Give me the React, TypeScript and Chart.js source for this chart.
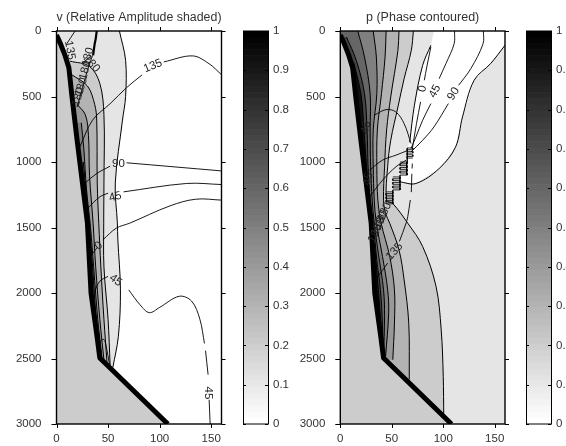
import React, { useEffect, useRef } from "react";
import { Chart, registerables } from "chart.js";

Chart.register(...registerables);

type Pair = [number, number];

const FONT = "Liberation Sans";
const INK = "#333333";

const xTickStep = 50;
const xMax = 160;
const depthStep = 500;
const depthMax = 3000;

const seabed: Pair[] = [[0, 30], [4, 100], [8, 180], [12, 280], [15, 500], [20, 834], [24, 1088], [30, 1467], [33.5, 2001], [39.3, 2331], [42, 2496], [108, 3000]];

// Panel v: relative-amplitude contours, outer to inner
const vAmp1: Pair[] = [[61, 0], [67, 224], [67, 500], [64, 680], [57, 1160], [59, 1464], [59.5, 1595], [62, 1976], [60, 2330], [54.6, 2570]];
const vAmp2: Pair[] = [[13, 230], [32, 270], [42, 400], [46, 640], [46, 1160], [45.8, 1467], [46, 1800], [50, 2200], [52, 2550]];
const vAmp3: Pair[] = [[14, 330], [30, 420], [37, 560], [39, 680], [39.5, 1160], [41, 1467], [43, 1800], [46, 2200], [49, 2530]];
const vAmp4: Pair[] = [[20, 560], [28, 640], [31, 800], [32, 1100], [35.5, 1467], [38, 1800], [42, 2200], [46, 2510]];
const vAmp5: Pair[] = [[24, 700], [26.5, 900], [29, 1200], [33, 1500], [36, 1800], [40, 2200], [44, 2490]];
const vAmp6: Pair[] = [[26, 1000], [29, 1250], [32, 1500], [35, 1800], [38.5, 2200], [42.5, 2480]];
const vAmp7: Pair[] = [[27, 1150], [30, 1400], [33.5, 1800], [37, 2200], [41, 2480]];
const vAmpShades = ["#e5e5e5", "#cccccc", "#b3b3b3", "#999999", "#808080", "#555555", "#111111"];

// Panel v: phase contours (split where a label interrupts the line)
const vPhase: Pair[][] = [
  [[22.6, 885], [35, 680], [52, 555], [68, 432], [83, 335]],
  [[104, 236], [132, 190], [148, 250], [159.5, 330]],
  [[27, 1165], [39, 1088], [52, 1032]],
  [[68, 1006], [160, 1068]],
  [[30, 1355], [42, 1266], [50, 1238]],
  [[65, 1228], [126, 1164], [160, 1172]],
  [[34, 1708], [39, 1658]],
  [[45, 1594], [58, 1505], [71, 1467], [110, 1335], [135, 1284], [160, 1291]],
  [[37, 1987], [42, 1910], [50, 1873]],
  [[70, 1976], [81, 2090], [90, 2150], [100, 2110], [119, 2025], [131, 2062], [139, 2200], [143.5, 2385]],
  [[144.5, 2440], [147, 2623]],
  [[148, 2815], [149, 3000]],
  [[40, 2410], [43, 2365], [46, 2355], [48, 2400], [51.6, 2555]],
  [[18, 0], [10, 97]],
  [[35, 186], [30, 300], [25, 440], [20, 580]],
];
const vWrap: Pair[] = [[39, 0], [38, 60], [37, 100], [35.5, 186]];
const vLabels: [string, number, number, number][] = [
  ["135", 93.5, 267, -22],
  ["90", 60, 1017, 0],
  ["45", 57, 1266, -15],
  ["0", 41, 1640, -40],
  ["45", 57.4, 1904, 35],
  ["45", 147, 2763, 90],
  ["135", 13, 147, 80],
  ["180", 30.6, 198, -75],
  ["180", 34, 249, 50],
  ["180", 28, 300, -75],
  ["180", 24, 427, -72],
  ["180", 21, 503, -72],
];

// Panel p: relative-amplitude contours
const pAmpWhite: Pair[] = [[91, 0], [160, 0], [160, 109], [146, 249], [130, 376], [118.7, 656], [112, 885], [96, 1050], [73.5, 1164], [57.4, 1151], [57.4, 1100], [64, 1100], [64.5, 910], [67.4, 849], [72, 567], [80, 262], [88, 109]];
const pAmp1: Pair[] = [[71, 0], [69, 147], [62, 364], [56, 580], [49, 834], [46, 1037], [45, 1291], [51, 1317], [65.5, 1467], [80, 1645], [93, 1950], [98, 2280], [100, 2636], [100.5, 2943]];
const pAmp2: Pair[] = [[57, 0], [56, 147], [49, 503], [45, 755], [43, 1037], [42, 1291], [44, 1393], [48, 1467], [57, 1670], [62, 1900], [66.5, 2230], [67, 2660]];
const pAmp3: Pair[] = [[44.5, 0], [43.5, 198], [40, 478], [36, 755], [35.5, 1037], [36.5, 1291], [39.7, 1467], [48, 1721], [52.6, 1975], [52.6, 2230], [51, 2509]];
const pAmp4: Pair[] = [[32, 0], [35, 198], [35.5, 478], [32, 755], [32, 1037], [33, 1291], [35, 1467], [41, 1721], [46, 1975], [47, 2153], [44, 2484]];
const pAmp5: Pair[] = [[17, 0], [23.5, 198], [29, 478], [29, 755], [29.5, 1037], [31, 1291], [33, 1467], [37, 1700], [42, 1975], [43, 2178], [42, 2484]];
const pAmp6: Pair[] = [[6, 46], [15.5, 224], [23.5, 478], [26, 755], [27, 1037], [29, 1291], [32, 1467], [35.5, 1750], [39, 1975], [41, 2250], [41.3, 2484]];
const pAmp7: Pair[] = [[13, 240], [20, 478], [23, 755], [25.5, 1037], [28, 1291], [31, 1467], [34, 1700], [37, 1975], [40, 2300]];
const pAmpShades = ["#cccccc", "#b3b3b3", "#999999", "#808080", "#666666", "#444444", "#111111"];

// Panel p: phase contours
const pPhase: Pair[][] = [
  [[88, 122], [84, 275], [81.6, 376]],
  [[78, 541], [74, 707], [70, 897]],
  [[111, 0], [110.6, 97], [102.6, 249], [96, 364]],
  [[88, 554], [80, 681], [73.5, 808], [68.7, 897]],
  [[139, 0], [138.7, 97], [126.8, 287], [115, 414]],
  [[105, 554], [91, 732], [80, 834], [68.7, 923]],
  [[33, 643], [44.5, 600], [54, 618], [62, 707], [68.7, 859]],
  [[28.4, 1063], [41, 986], [54, 948], [64.5, 915]],
  [[28.4, 1266], [41, 1139], [54, 1037], [64, 986]],
  [[70, 1012], [69.7, 1050]],
  [[69.5, 1090], [69, 1230]],
  [[68, 1290], [65.5, 1418], [63.9, 1467], [57.4, 1607]],
  [[46, 1772], [35.5, 1886]],
];
const pHatch: Pair[][] = [
  [[65, 893], [70.5, 893], [70.5, 906], [65, 906], [65, 919], [70.5, 919], [70.5, 932], [65, 932], [65, 945], [70.5, 945], [70.5, 958], [65, 958], [65, 970], [70.5, 970]],
  [[58, 1000], [65, 1000], [65, 1014], [58, 1014], [58, 1028], [65, 1028], [65, 1042], [58, 1042], [58, 1056], [65, 1056], [65, 1070], [58, 1070], [58, 1084], [65, 1084], [65, 1100], [58, 1100]],
  [[51, 1114], [58, 1114], [58, 1128], [51, 1128], [51, 1142], [58, 1142], [58, 1156], [51, 1156], [51, 1170], [58, 1170], [58, 1184], [51, 1184], [51, 1198], [58, 1198], [58, 1213], [51, 1213]],
  [[44.4, 1228], [51, 1228], [51, 1241], [44.4, 1241], [44.4, 1254], [51, 1254], [51, 1267], [44.4, 1267], [44.4, 1280], [51, 1280], [51, 1293], [44.4, 1293], [44.4, 1306], [51, 1306], [51, 1320], [44.4, 1320]],
];
const pSteps: Pair[][] = [
  [[65, 893], [65, 1000]],
  [[64.5, 1000], [64.5, 1100]],
  [[58, 1100], [58, 1213]],
  [[51, 1213], [51, 1320]],
];
const pLabels: [string, number, number, number][] = [
  ["0", 80, 440, -78],
  ["45", 92, 460, -62],
  ["90", 110, 480, -58],
  ["135", 52.6, 1683, -48],
  ["45", 25, 737, -75],
  ["45", 27, 1130, -75],
  ["180", 43, 1380, -65],
  ["180", 39, 1440, -65],
  ["180", 36.7, 1495, -65],
  ["180", 34, 1545, -65],
];

const titles = { v: "v (Relative Amplitude shaded)", p: "p (Phase contoured)" };

const barGrays = [255, 251, 247, 243, 239, 235, 231, 227, 223, 219, 215, 211, 207, 202, 198, 194, 190, 186, 182, 178, 174, 170, 166, 162, 158, 154, 150, 146, 142, 138, 134, 130, 125, 121, 117, 113, 109, 105, 101, 97, 93, 89, 85, 81, 77, 73, 69, 65, 61, 57, 53, 49, 45, 40, 36, 32, 28, 24, 20, 16, 12, 8, 4, 0];
const barStep = 0.015625;
const barTickStep = 0.1;

const pts = (a: Pair[]) => a.map(([x, y]) => ({ x, y }));

const line = (a: Pair[], extra: any = {}) => ({
  data: pts(a),
  borderColor: "#000000",
  borderWidth: 1,
  pointRadius: 0,
  tension: 0.35,
  showLine: true,
  fill: false,
  ...extra,
});

const shadePlugin = (background: string) => ({
  id: "shade",
  beforeDatasetsDraw(chart: any) {
    const { ctx, chartArea: a, scales } = chart;
    ctx.save();
    ctx.beginPath();
    ctx.rect(a.left, a.top, a.right - a.left, a.bottom - a.top);
    ctx.clip();
    ctx.fillStyle = background;
    ctx.fillRect(a.left, a.top, a.right - a.left, a.bottom - a.top);
    const count = chart.data.datasets.length;
    const shaded = [];
    for (let i = 0; i < count; i++) if (chart.data.datasets[i].shade) shaded.push(i);
    shaded.sort((p, q) => chart.data.datasets[p].shadeOrder - chart.data.datasets[q].shadeOrder);
    for (const i of shaded) {
      const ds = chart.data.datasets[i];
      const el = chart.getDatasetMeta(i).dataset;
      el.updateControlPoints(a, "x");
      ctx.beginPath();
      el.path(ctx);
      if (!ds.selfClosed) {
        const first = ds.data[0];
        const last = ds.data[ds.data.length - 1];
        ctx.lineTo(scales.x.getPixelForValue(0), scales.y.getPixelForValue(last.y));
        ctx.lineTo(scales.x.getPixelForValue(0), scales.y.getPixelForValue(first.y));
      }
      ctx.closePath();
      ctx.fillStyle = ds.shade;
      ctx.fill();
    }
    ctx.restore();
  },
});

const labelPlugin = (labels: [string, number, number, number][]) => ({
  id: "contourLabels",
  afterDatasetsDraw(chart: any) {
    const { ctx, scales } = chart;
    ctx.save();
    ctx.font = `11.5px "${FONT}"`;
    ctx.fillStyle = "#222222";
    ctx.textAlign = "center";
    ctx.textBaseline = "middle";
    for (const [text, x, y, angle] of labels) {
      ctx.save();
      ctx.translate(scales.x.getPixelForValue(x), scales.y.getPixelForValue(y));
      ctx.rotate((angle * Math.PI) / 180);
      ctx.fillText(text, 0, 0);
      ctx.restore();
    }
    ctx.restore();
  },
});

// The box round each panel with its four sets of outward ticks
const framePlugin = {
  id: "panelFrame",
  afterDatasetsDraw(chart: any) {
    const { ctx, chartArea: a, scales } = chart;
    ctx.save();
    ctx.strokeStyle = "#000000";
    ctx.lineWidth = 1;
    ctx.beginPath();
    for (const t of scales.x.ticks) {
      const x = Math.round(scales.x.getPixelForValue(t.value)) + 0.5;
      ctx.moveTo(x, a.top - 4);
      ctx.lineTo(x, a.top);
      ctx.moveTo(x, a.bottom);
      ctx.lineTo(x, a.bottom + 4);
    }
    for (const t of scales.y.ticks) {
      const y = Math.round(scales.y.getPixelForValue(t.value)) + 0.5;
      ctx.moveTo(a.left - 5, y);
      ctx.lineTo(a.left, y);
      ctx.moveTo(a.right, y);
      ctx.lineTo(a.right + 4, y);
    }
    ctx.stroke();
    ctx.lineWidth = 1.4;
    ctx.strokeRect(a.left, a.top, a.right - a.left, a.bottom - a.top);
    ctx.restore();
  },
};

const tickFont = { family: FONT, size: 11.5 };
const plainNumber = (v: any) => String(v);
const fixedWidth = (w: number) => (s: any) => { s.width = w; };
const fixedHeight = (h: number) => (s: any) => { s.height = h; };
const hiddenGrid = { display: false, drawTicks: true, tickLength: 5 };

function panelOptions(title: string, leftWidth: number, rightPad: number): any {
  return {
    responsive: false,
    animation: false,
    layout: { padding: { left: 0, right: rightPad, top: 0, bottom: 0 } },
    plugins: {
      legend: { display: false },
      tooltip: { enabled: false },
      title: { display: true, text: title, color: INK, fullSize: false, font: { family: FONT, size: 12.5, weight: "normal" }, padding: { top: 10.5, bottom: 5.5 } },
    },
    scales: {
      x: {
        type: "linear", min: 0, max: xMax, position: "bottom",
        grid: hiddenGrid, border: { display: false }, afterFit: fixedHeight(22),
        ticks: { stepSize: xTickStep, includeBounds: false, maxRotation: 0, autoSkip: false, callback: plainNumber, color: INK, font: tickFont, padding: 3 },
      },
      y: {
        type: "linear", min: 0, max: depthMax, reverse: true, position: "left",
        grid: hiddenGrid, border: { display: false }, afterFit: fixedWidth(leftWidth),
        ticks: { stepSize: depthStep, autoSkip: false, callback: plainNumber, color: INK, font: tickFont, padding: 10 },
      },
    },
  };
}

function vConfig(): any {
  const amps = [vAmp1, vAmp2, vAmp3, vAmp4, vAmp5, vAmp6, vAmp7];
  return {
    type: "scatter",
    data: {
      datasets: [
        line(seabed, { borderWidth: 5, tension: 0, shade: "#cccccc", shadeOrder: 99, borderJoinStyle: "round" }),
        line(vWrap, { borderWidth: 2.2 }),
        ...vPhase.map((a) => line(a, { borderWidth: 0.9 })),
        ...amps.map((a, i) => line(a, { shade: vAmpShades[i], shadeOrder: i })),
      ],
    },
    options: panelOptions(titles.v, 56.5, 8.5),
    plugins: [shadePlugin("#ffffff"), labelPlugin(vLabels), framePlugin],
  };
}

function pConfig(): any {
  const amps = [pAmp1, pAmp2, pAmp3, pAmp4, pAmp5, pAmp6, pAmp7];
  return {
    type: "scatter",
    data: {
      datasets: [
        line(seabed, { borderWidth: 5, tension: 0, shade: "#cccccc", shadeOrder: 99, borderJoinStyle: "round" }),
        ...pSteps.map((a) => line(a, { borderWidth: 1.4, tension: 0 })),
        ...pHatch.map((a) => line(a, { borderWidth: 0.8, tension: 0 })),
        ...pPhase.map((a) => line(a, { borderWidth: 0.9 })),
        line(pAmpWhite.slice(2, 10), { borderWidth: 1 }),
        line(pAmpWhite.slice(13), { borderWidth: 1 }),
        line(pAmpWhite, { borderWidth: 0, tension: 0, shade: "#ffffff", shadeOrder: -1, selfClosed: true }),
        ...amps.map((a, i) => line(a, { shade: pAmpShades[i], shadeOrder: i })),
      ],
    },
    options: panelOptions(titles.p, 57.3, 8),
    plugins: [shadePlugin("#e5e5e5"), labelPlugin(pLabels), framePlugin],
  };
}

const barFrame = {
  id: "barFrame",
  afterDatasetsDraw(chart: any) {
    const { ctx, chartArea: a, scales } = chart;
    ctx.save();
    ctx.strokeStyle = "#000000";
    ctx.lineWidth = 1;
    ctx.strokeRect(a.left + 0.5, a.top, a.right - a.left, a.bottom - a.top);
    for (const t of scales.y.ticks) {
      const y = Math.round(scales.y.getPixelForValue(t.value)) + 0.5;
      ctx.beginPath();
      ctx.moveTo(a.left, y);
      ctx.lineTo(a.left + 3, y);
      ctx.moveTo(a.right - 3, y);
      ctx.lineTo(a.right, y);
      ctx.stroke();
    }
    ctx.restore();
  },
};

function barConfig(axisWidth: number): any {
  return {
    type: "bar",
    data: {
      labels: ["level"],
      datasets: barGrays.map((g) => ({
        data: [barStep],
        backgroundColor: `rgb(${g},${g},${g})`,
        borderWidth: 0,
        barPercentage: 1,
        categoryPercentage: 1,
      })),
    },
    options: {
      responsive: false,
      animation: false,
      layout: { padding: { left: 8, right: 0, top: 31, bottom: 22 } },
      plugins: { legend: { display: false }, tooltip: { enabled: false }, title: { display: false } },
      scales: {
        x: { stacked: true, display: false },
        y: {
          stacked: true,
          position: "right",
          min: 0,
          max: 1,
          afterFit: fixedWidth(axisWidth),
          border: { display: false },
          grid: { display: false, drawTicks: false },
          ticks: { stepSize: barTickStep, color: INK, font: tickFont, padding: 5, autoSkip: false, callback: (v: any) => String(Number(Number(v).toFixed(1))) },
        },
      },
    },
    plugins: [barFrame],
  };
}

function Canvas({ config, left, width }: { config: () => any; left: number; width: number }) {
  const ref = useRef<HTMLCanvasElement>(null);
  useEffect(() => {
    const chart = new Chart(ref.current as HTMLCanvasElement, config());
    return () => chart.destroy();
  }, [config]);
  return <canvas ref={ref} width={width} height={446} style={{ position: "absolute", left, top: 0, width, height: 446 }} />;
}

const bar1 = () => barConfig(32);
const bar2 = () => barConfig(15);

export default function App() {
  return (
    <div style={{ position: "absolute", left: 0, top: 0, width: 566, height: 446, overflow: "hidden", background: "#ffffff" }}>
      <Canvas config={vConfig} left={0} width={230} />
      <Canvas config={bar1} left={235} width={65} />
      <Canvas config={pConfig} left={283} width={230} />
      <Canvas config={bar2} left={518} width={48} />
    </div>
  );
}
